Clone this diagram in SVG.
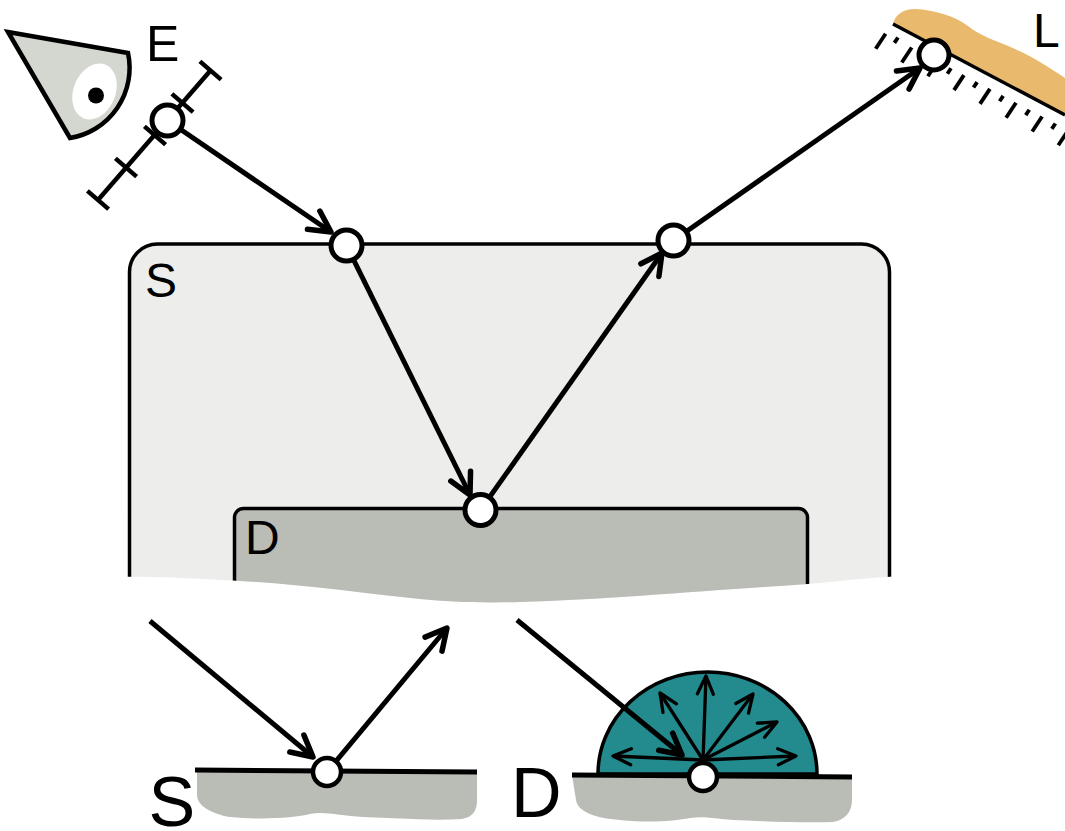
<svg xmlns="http://www.w3.org/2000/svg" width="1065" height="831" viewBox="0 0 1065 831">
  <style>
    .lbl { font-family: "Liberation Sans", Arial, sans-serif; fill: #000; }
    .ray { fill: none; stroke: #000; stroke-width: 5; stroke-linecap: butt; }
    .ray-thin { fill: none; stroke: #000; stroke-width: 3.3; }
    .pt { fill: #fff; stroke: #000; stroke-width: 5; }
    .pt-s { fill: #fff; stroke: #000; stroke-width: 4.5; }
    .tick { stroke: #000; stroke-width: 4.5; stroke-linecap: butt; }
    .hatch { stroke: #000; stroke-width: 3.8; stroke-linecap: butt; }
    .ground { fill: #babdb6; }
  </style>
  <defs>
    <marker id="head" markerUnits="userSpaceOnUse" markerWidth="60" markerHeight="60" refX="0" refY="0" orient="auto" overflow="visible">
      <path d="M-21,-11 L0,0 L-21,11" fill="none" stroke="#000" stroke-width="5.5" stroke-linecap="round" stroke-linejoin="round"/>
    </marker>
    <marker id="head-s" markerUnits="userSpaceOnUse" markerWidth="40" markerHeight="40" refX="0" refY="0" orient="auto" overflow="visible">
      <path d="M-18,-8 L0,0 L-18,8" fill="none" stroke="#000" stroke-width="3.3" stroke-linecap="round" stroke-linejoin="round"/>
    </marker>
    <!-- torn lower edge of the cut-away -->
    <clipPath id="torn">
      <path d="M100,200 L920,200 L920,576 C900,576 880,577 860,579 C830,582 810,584 780,586 C700,591 600,600 520,602 C480,603 450,602 420,599 C360,593 300,584 240,581 C200,579 160,576 100,577 Z"/>
    </clipPath>
  </defs>

  <!-- specular medium S with diffuse layer D, cut away at the bottom -->
  <g id="S" clip-path="url(#torn)">
    <rect x="129.5" y="244" width="760" height="420" rx="28" fill="#ededec" stroke="#000" stroke-width="3.5"/>
    <text class="lbl" x="145" y="297" font-size="48">S</text>
  </g>
  <g id="D" clip-path="url(#torn)">
    <rect x="234.5" y="508.5" width="573" height="200" rx="9" fill="#babdb6" stroke="#000" stroke-width="3.5"/>
    <text class="lbl" x="245" y="554" font-size="48">D</text>
  </g>

  <!-- eye / camera E -->
  <g id="E">
    <path d="M8,32 L128,53 A71,71 0 0 1 70,138 Z" fill="#d3d7cf" stroke="#000" stroke-width="4.5" stroke-linejoin="miter"/>
    <ellipse cx="94.5" cy="91.5" rx="21" ry="29" transform="rotate(22 94.5 91.5)" fill="#fff"/>
    <circle cx="96" cy="95.5" r="8" fill="#000"/>
    <text class="lbl" x="146" y="61" font-size="50">E</text>
    <!-- image plane -->
    <line class="tick" x1="98" y1="200" x2="210.5" y2="70.5"/>
    <g class="tick">
      <line x1="87.4" y1="190.9" x2="108.6" y2="209.1"/>
      <line x1="115.4" y1="158.4" x2="136.6" y2="176.6"/>
      <line x1="144.4" y1="126.4" x2="165.6" y2="144.6"/>
      <line x1="171.9" y1="93.9" x2="193.1" y2="112.1"/>
      <line x1="199.9" y1="61.4" x2="221.1" y2="79.6"/>
    </g>
  </g>

  <!-- light source L -->
  <g id="L">
    <path d="M893,24 C895,15 903,9 915,9 C935,10 955,16 968,26 C980,36 995,40 1015,49 C1035,58 1050,68 1065,78 L1065,115 Z" fill="#e9b96e"/>
    <line x1="893" y1="24" x2="1065" y2="115" stroke="#000" stroke-width="3.5"/>
    <g class="hatch">
      <line x1="885.6" y1="33.7" x2="875.7" y2="48.7"/>
      <line x1="911.7" y1="47.5" x2="901.8" y2="62.5"/>
      <line x1="937.8" y1="61.3" x2="927.9" y2="76.3"/>
      <line x1="963.9" y1="75.1" x2="954.0" y2="90.1"/>
      <line x1="989.9" y1="88.9" x2="980.0" y2="103.9"/>
      <line x1="1016.0" y1="102.7" x2="1006.1" y2="117.7"/>
      <line x1="1042.1" y1="116.5" x2="1032.2" y2="131.5"/>
      <line x1="1068.2" y1="130.3" x2="1058.3" y2="145.3"/>
      <line x1="898.0" y1="37.5" x2="894.4" y2="42.9"/>
      <line x1="925.0" y1="54.5" x2="921.4" y2="59.9"/>
      <line x1="951.0" y1="68.3" x2="947.4" y2="73.7"/>
      <line x1="977.1" y1="82.1" x2="973.5" y2="87.5"/>
      <line x1="1003.2" y1="95.9" x2="999.6" y2="101.3"/>
      <line x1="1029.3" y1="109.7" x2="1025.7" y2="115.1"/>
      <line x1="1055.4" y1="123.5" x2="1051.8" y2="128.9"/>
    </g>
    <text class="lbl" x="1033" y="47" font-size="48">L</text>
  </g>

  <!-- close-up: specular reflection -->
  <g id="S-detail">
    <path class="ground" d="M197,770 L477,772 L477,800 C477,812 472,817 462,819 C430,821 395,818 363,817 C340,816 325,811 310,814 C295,818 260,820 230,817 C212,814 197,806 197,795 Z"/>
    <line x1="195" y1="770" x2="477" y2="772" stroke="#000" stroke-width="5"/>
    <text class="lbl" x="148.5" y="826" font-size="70">S</text>
  </g>

  <!-- close-up: diffuse scattering -->
  <g id="D-detail">
    <path class="ground" d="M572,775 L852,777 L852,800 C852,812 845,820 833,822 C800,823 760,821 733,820 C715,819 705,816 690,818 C675,821 650,823 620,820 C595,818 578,812 576,800 Z"/>
    <path d="M598,774 A109.5,102 0 0 1 817,774 Z" fill="#238a8d" stroke="#000" stroke-width="3.5"/>
    <line x1="572" y1="775" x2="852" y2="777" stroke="#000" stroke-width="5"/>
    <text class="lbl" x="511" y="817" font-size="70">D</text>
  </g>

  <!-- light paths -->
  <g id="connectors">
    <line class="ray" x1="167.5" y1="120.5" x2="331" y2="232" marker-end="url(#head)"/>
    <line class="ray" x1="346.5" y1="245.5" x2="470" y2="495" marker-end="url(#head)"/>
    <line class="ray" x1="480.5" y1="510" x2="662" y2="253" marker-end="url(#head)"/>
    <line class="ray" x1="673.5" y1="240.5" x2="920" y2="68" marker-end="url(#head)"/>
    <line class="ray" x1="150" y1="621" x2="313" y2="757" marker-end="url(#head)"/>
    <line class="ray" x1="327" y1="772" x2="447" y2="628" marker-end="url(#head)"/>
    <line class="ray" x1="517" y1="620" x2="682" y2="755" marker-end="url(#head)"/>
    <g marker-end="url(#head-s)">
      <line class="ray-thin" x1="703" y1="760" x2="613" y2="756"/>
      <line class="ray-thin" x1="703" y1="760" x2="660" y2="693"/>
      <line class="ray-thin" x1="703" y1="760" x2="706" y2="676"/>
      <line class="ray-thin" x1="703" y1="760" x2="753" y2="694"/>
      <line class="ray-thin" x1="703" y1="760" x2="777" y2="722"/>
      <line class="ray-thin" x1="703" y1="760" x2="796" y2="756"/>
    </g>
  </g>

  <!-- interaction points -->
  <g id="points">
    <circle class="pt" cx="167.5" cy="120.5" r="15.5"/>
    <circle class="pt" cx="346.5" cy="245.5" r="15.5"/>
    <circle class="pt" cx="480.5" cy="510" r="15.5"/>
    <circle class="pt" cx="673.5" cy="240.5" r="15.5"/>
    <circle class="pt" cx="934" cy="55" r="15"/>
    <circle class="pt-s" cx="327" cy="772" r="14"/>
    <circle class="pt-s" cx="703" cy="777" r="14"/>
  </g>
</svg>
